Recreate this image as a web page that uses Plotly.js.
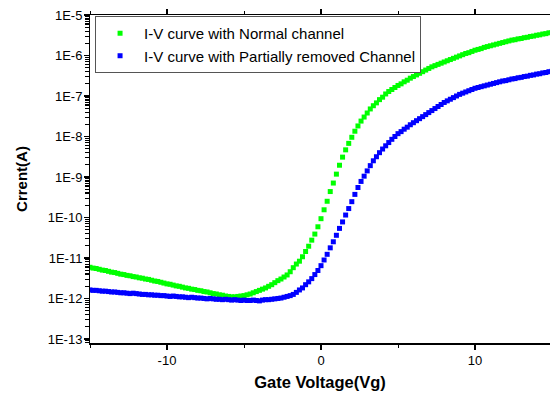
<!DOCTYPE html>
<html>
<head>
<meta charset="utf-8">
<script src="https://cdn.plot.ly/plotly-3.0.1.min.js"></script>
<style>html,body{margin:0;padding:0;background:#fff;}#chart{width:550px;height:396px;}</style>
</head>
<body>
<div id="chart"></div>
<script>
// Gate voltage sweep (V)
var gateVoltage = [
-15,-14.8,-14.6,-14.4,-14.2,-14,-13.8,-13.6,-13.4,-13.2,
-13,-12.8,-12.6,-12.4,-12.2,-12,-11.8,-11.6,-11.4,-11.2,
-11,-10.8,-10.6,-10.4,-10.2,-10,-9.8,-9.6,-9.4,-9.2,
-9,-8.8,-8.6,-8.4,-8.2,-8,-7.8,-7.6,-7.4,-7.2,
-7,-6.8,-6.6,-6.4,-6.2,-6,-5.8,-5.6,-5.4,-5.2,
-5,-4.8,-4.6,-4.4,-4.2,-4,-3.8,-3.6,-3.4,-3.2,
-3,-2.8,-2.6,-2.4,-2.2,-2,-1.8,-1.6,-1.4,-1.2,
-1,-0.8,-0.6,-0.4,-0.2,0,0.2,0.4,0.6,0.8,
1,1.2,1.4,1.6,1.8,2,2.2,2.4,2.6,2.8,
3,3.2,3.4,3.6,3.8,4,4.2,4.4,4.6,4.8,
5,5.2,5.4,5.6,5.8,6,6.2,6.4,6.6,6.8,
7,7.2,7.4,7.6,7.8,8,8.2,8.4,8.6,8.8,
9,9.2,9.4,9.6,9.8,10,10.2,10.4,10.6,10.8,
11,11.2,11.4,11.6,11.8,12,12.2,12.4,12.6,12.8,
13,13.2,13.4,13.6,13.8,14,14.2,14.4,14.6,14.8,
15];

// log10 of drain current (A)
var log10CurrentNormal = [
-11.23,-11.25,-11.26,-11.28,-11.30,-11.31,-11.33,-11.35,-11.36,-11.38,
-11.40,-11.41,-11.43,-11.44,-11.46,-11.47,-11.49,-11.50,-11.52,-11.53,
-11.55,-11.57,-11.58,-11.60,-11.62,-11.64,-11.65,-11.67,-11.69,-11.70,
-11.72,-11.74,-11.75,-11.77,-11.78,-11.80,-11.81,-11.83,-11.84,-11.86,
-11.88,-11.89,-11.91,-11.92,-11.94,-11.95,-11.96,-11.96,-11.95,-11.94,
-11.93,-11.91,-11.89,-11.86,-11.83,-11.80,-11.77,-11.74,-11.70,-11.66,
-11.61,-11.56,-11.52,-11.47,-11.42,-11.34,-11.24,-11.15,-11.08,-10.97,
-10.84,-10.71,-10.56,-10.41,-10.23,-10.03,-9.81,-9.60,-9.36,-9.15,
-8.93,-8.71,-8.51,-8.33,-8.17,-8.02,-7.87,-7.74,-7.62,-7.52,
-7.42,-7.32,-7.24,-7.17,-7.09,-7.03,-6.95,-6.89,-6.84,-6.79,
-6.74,-6.70,-6.65,-6.61,-6.56,-6.52,-6.48,-6.44,-6.40,-6.36,
-6.32,-6.28,-6.25,-6.22,-6.19,-6.16,-6.13,-6.10,-6.07,-6.04,
-6.01,-5.98,-5.95,-5.93,-5.90,-5.87,-5.85,-5.83,-5.80,-5.78,
-5.76,-5.74,-5.72,-5.70,-5.68,-5.66,-5.64,-5.62,-5.61,-5.59,
-5.58,-5.56,-5.55,-5.53,-5.52,-5.50,-5.49,-5.47,-5.46,-5.44,
-5.43];

var log10CurrentPartial = [
-11.79,-11.80,-11.80,-11.81,-11.82,-11.82,-11.83,-11.84,-11.84,-11.85,
-11.86,-11.86,-11.87,-11.88,-11.87,-11.88,-11.89,-11.90,-11.90,-11.91,
-11.91,-11.92,-11.92,-11.93,-11.93,-11.94,-11.95,-11.94,-11.95,-11.96,
-11.96,-11.97,-11.98,-11.97,-11.98,-11.99,-11.99,-12.00,-12.01,-12.00,
-12.01,-12.02,-12.02,-12.03,-12.02,-12.03,-12.04,-12.03,-12.04,-12.05,
-12.04,-12.05,-12.05,-12.04,-12.05,-12.06,-12.04,-12.03,-12.03,-12.02,
-12.01,-12.00,-11.99,-11.97,-11.95,-11.93,-11.90,-11.85,-11.79,-11.74,
-11.66,-11.59,-11.51,-11.41,-11.31,-11.19,-11.05,-10.91,-10.75,-10.60,
-10.44,-10.27,-10.11,-9.94,-9.78,-9.61,-9.43,-9.26,-9.11,-8.98,
-8.85,-8.72,-8.60,-8.50,-8.40,-8.31,-8.23,-8.15,-8.07,-8.00,
-7.93,-7.88,-7.82,-7.77,-7.71,-7.66,-7.61,-7.56,-7.51,-7.46,
-7.41,-7.36,-7.31,-7.26,-7.21,-7.16,-7.12,-7.08,-7.04,-7.00,
-6.96,-6.93,-6.90,-6.87,-6.84,-6.81,-6.79,-6.77,-6.75,-6.73,
-6.71,-6.69,-6.67,-6.65,-6.63,-6.62,-6.60,-6.58,-6.57,-6.55,
-6.54,-6.52,-6.51,-6.49,-6.48,-6.46,-6.45,-6.43,-6.42,-6.40,
-6.39];

var seriesNames = ['I-V curve with Normal channel', 'I-V curve with Partially removed Channel'];
var yDecades = [1e-13, 1e-12, 1e-11, 1e-10, 1e-9, 1e-8, 1e-7, 1e-6, 1e-5];
var yDecadeLabels = ['1E-13', '1E-12', '1E-11', '1E-10', '1E-9', '1E-8', '1E-7', '1E-6', '1E-5'];
var xTickVals = [-10, 0, 10];
var xTickText = ['-10', '0', '10'];

function toAmps(arr) { return arr.map(function (v) { return Math.pow(10, v); }); }

// y ticks: labelled decades plus unlabelled 2..9 minor positions
var yTickVals = [], yTickText = [];
[1e-14].concat(yDecades).forEach(function (d) {
  var i = yDecades.indexOf(d);
  if (i >= 0) { yTickVals.push(d); yTickText.push(yDecadeLabels[i]); }
  for (var k = 2; k <= 9; k++) { yTickVals.push(d * k); yTickText.push(''); }
});

var FONT = 'Arial, "Liberation Sans", Helvetica, sans-serif';
var Y_RANGE = [-13.1, -5];

var traces = [
  {
    x: gateVoltage, y: toAmps(log10CurrentNormal), name: seriesNames[0],
    type: 'scatter', mode: 'markers',
    marker: { symbol: 'square', size: 5, color: '#00ff00', line: { width: 0 } }
  },
  {
    // same log scale/range as yaxis; yaxis2 only adds longer decade ticks
    x: gateVoltage, y: toAmps(log10CurrentPartial), name: seriesNames[1],
    type: 'scatter', mode: 'markers', yaxis: 'y2',
    marker: { symbol: 'square', size: 5, color: '#0000ff', line: { width: 0 } }
  }
];

var layout = {
  width: 550, height: 396,
  margin: { l: 90, r: 0, t: 15, b: 53 },
  paper_bgcolor: '#ffffff', plot_bgcolor: '#ffffff',
  font: { family: FONT, size: 13, color: '#000' },
  showlegend: true,
  legend: {
    x: 0.011, y: 0.997, xanchor: 'left', yanchor: 'top',
    bgcolor: '#ffffff', bordercolor: '#555', borderwidth: 1,
    font: { family: FONT, size: 15, color: '#000' },
    itemwidth: 38
  },
  xaxis: {
    range: [-15, 14.87], showgrid: false, zeroline: false,
    showline: true, linecolor: '#000', linewidth: 1.5, mirror: 'ticks',
    ticks: 'outside', ticklen: 5, tickwidth: 1.2, tickcolor: '#000',
    tickmode: 'array', tickvals: xTickVals, ticktext: xTickText,
    tickfont: { family: FONT, size: 13, color: '#000' },
    minor: { dtick: 5, tick0: 0, ticks: 'outside', ticklen: 3, tickwidth: 1, tickcolor: '#000', showgrid: false },
    title: { text: 'Gate Voltage(Vg)', font: { family: FONT, size: 16.5, color: '#000', weight: 'bold' }, standoff: 9 }
  },
  yaxis: {
    type: 'log', range: Y_RANGE, showgrid: false, zeroline: false,
    showline: true, linecolor: '#000', linewidth: 1.5, mirror: false,
    ticks: 'outside', ticklen: 3.5, tickwidth: 1.2, tickcolor: '#000',
    tickmode: 'array', tickvals: yTickVals, ticktext: yTickText,
    tickfont: { family: FONT, size: 13, color: '#000' },
    title: { text: 'Crrent(A)', font: { family: FONT, size: 15, color: '#000', weight: 'bold' }, standoff: 16 }
  },
  yaxis2: {
    type: 'log', range: Y_RANGE, overlaying: 'y', side: 'left', anchor: 'x',
    showgrid: false, zeroline: false, showline: false,
    tickmode: 'array', tickvals: yDecades,
    ticks: 'outside', ticklen: 5.5, tickwidth: 1.2, tickcolor: '#000',
    showticklabels: false
  }
};

Plotly.newPlot('chart', traces, layout, { staticPlot: true, displayModeBar: false });
</script>
</body>
</html>
